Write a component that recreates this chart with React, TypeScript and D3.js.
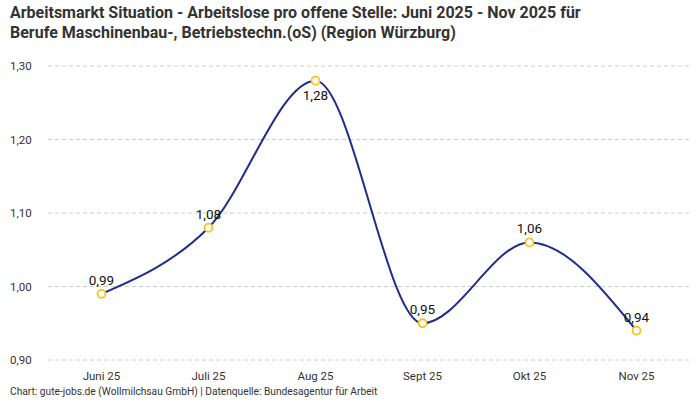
import * as d3 from 'd3';

const months = ['Juni 25', 'Juli 25', 'Aug 25', 'Sept 25', 'Okt 25', 'Nov 25'];
const values = [0.99, 1.08, 1.28, 0.95, 1.06, 0.94];
const yTicks = [0.9, 1.0, 1.1, 1.2, 1.3];
// labels that sit under their point instead of above it
const labelBelow = [false, false, true, false, false, false];

const titleLines = [
  'Arbeitsmarkt Situation - Arbeitslose pro offene Stelle: Juni 2025 - Nov 2025 für',
  'Berufe Maschinenbau-, Betriebstechn.(oS) (Region Würzburg)',
];
const footer =
  'Chart: gute-jobs.de (Wollmilchsau GmbH) | Datenquelle: Bundesagentur für Arbeit';

const fmt = (v: number) => v.toFixed(2).replace('.', ',');

export default function App() {
  const width = 700;
  const height = 400;
  const margin = { top: 66, right: 10, bottom: 40, left: 48 };

  const x = d3
    .scaleBand()
    .domain(months)
    .range([margin.left, width - margin.right]);
  const y = d3
    .scaleLinear()
    .domain([0.9, 1.3])
    .range([height - margin.bottom, margin.top]);

  const cx = (i: number) => (x(months[i]) as number) + x.bandwidth() / 2;

  const line = d3
    .line<number>()
    .x((_d, i) => cx(i))
    .y((d) => y(d))
    .curve(d3.curveMonotoneX);

  const font = 'Roboto, "Noto Sans", sans-serif';

  return (
    <div style={{ position: 'absolute', left: 0, top: 0 }}>
      <svg width={width} height={height} style={{ display: 'block', fontFamily: font }}>
        <rect width={width} height={height} fill="#fff" />
        {titleLines.map((t, i) => (
          <text
            key={i}
            x={10}
            y={18 + i * 20}
            fontSize={16}
            fontWeight="bold"
            fill="#333"
          >
            {t}
          </text>
        ))}

        {yTicks.map((t) => (
          <g key={t}>
            <line
              x1={margin.left}
              x2={width - margin.right}
              y1={y(t)}
              y2={y(t)}
              stroke="#ccc"
              strokeDasharray="4,3"
            />
            <text x={10} y={y(t) + 4} fontSize={11.5} fill="#333">
              {fmt(t)}
            </text>
          </g>
        ))}

        {months.map((m, i) => (
          <text
            key={m}
            x={cx(i)}
            y={height - margin.bottom + 20}
            fontSize={11.5}
            fill="#333"
            textAnchor="middle"
          >
            {m}
          </text>
        ))}

        <path d={line(values) ?? ''} fill="none" stroke="#1f2d8c" strokeWidth={2} />

        {values.map((v, i) => (
          <circle
            key={i}
            cx={cx(i)}
            cy={y(v)}
            r={4}
            fill="#fff"
            stroke="#f7c31a"
            strokeWidth={1.8}
          />
        ))}

        {values.map((v, i) => (
          <text
            key={i}
            x={cx(i)}
            y={labelBelow[i] ? y(v) + 19 : y(v) - 9}
            fontSize={13.5}
            fill="#111"
            textAnchor="middle"
          >
            {fmt(v)}
          </text>
        ))}

        <text x={10} y={height - 5} fontSize={10.2} fill="#333">
          {footer}
        </text>
      </svg>
    </div>
  );
}
